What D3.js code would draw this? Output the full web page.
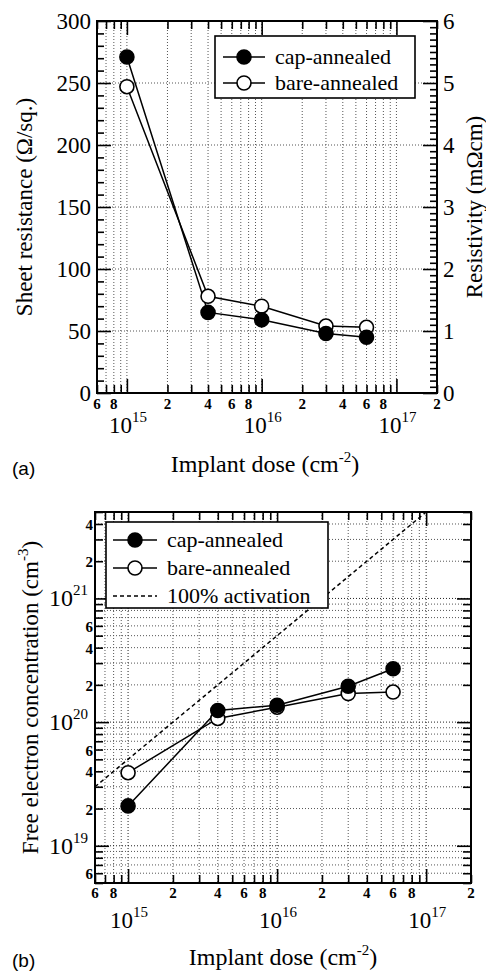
<!DOCTYPE html>
<html><head><meta charset="utf-8">
<script src="https://cdn.jsdelivr.net/npm/d3@7"></script>
<style>body{margin:0;background:#fff}svg{display:block}
svg text{font-family:"Liberation Serif" !important}
svg text.sans{font-family:"Liberation Sans" !important}</style>
</head><body>
<svg id="c" width="486" height="973"></svg>
<script>
// ---- data ----
const dose = [1e15, 4e15, 1e16, 3e16, 6e16];
const sheetCap = [271, 65, 59, 48, 45];
const sheetBare = [247, 78, 70, 54, 53];
const concCap = [2.1e19, 1.24e20, 1.37e20, 1.95e20, 2.7e20];
const concBare = [3.9e19, 1.07e20, 1.32e20, 1.7e20, 1.75e20];
const activationDose = [6e14, 1e17];
const activationConc = [3e19, 5e21];
const seriesNames = ["cap-annealed", "bare-annealed", "100% activation"];
const xMinorLabels = [6e14, 8e14, 2e15, 4e15, 6e15, 8e15, 2e16, 4e16, 6e16, 8e16, 2e17];
const xDecades = [15, 16, 17];
const yTicksA = [0, 50, 100, 150, 200, 250, 300];
const yTicksRight = [0, 1, 2, 3, 4, 5, 6];
const yMinorLabelsB = [4e21, 2e21, 6e20, 4e20, 2e20, 6e19, 4e19, 2e19, 6e18];
const yDecadesB = [19, 20, 21];

const svg = d3.select("#c");

function logTicks(lo, hi) {
  const out = [];
  for (let e = Math.floor(Math.log10(lo)); e <= Math.ceil(Math.log10(hi)); e++)
    for (let m = 1; m <= 9; m++) { const v = m * Math.pow(10, e); if (v >= lo * 0.999 && v <= hi * 1.001) out.push(v); }
  return out;
}
const isDecade = v => Math.abs(Math.log10(v) - Math.round(Math.log10(v))) < 1e-6;
const mant = d => String(Math.round(d / Math.pow(10, Math.floor(Math.log10(d) + 1e-9))));

function T(g) { return g.append("text").style("font-family", "Liberation Serif").attr("fill", "#000"); }

function xAxisLabels(g, x, yb, dyMinor, dyMajor) {
  g.selectAll(".xl").data(xMinorLabels).join("text").style("font-family", "Liberation Serif")
    .attr("x", d => x(d)).attr("y", yb + dyMinor).attr("text-anchor", "middle")
    .style("font-size", "15px").style("font-weight", "bold").text(mant);
  xDecades.forEach(e => {
    const t = T(g).attr("x", x(Math.pow(10, e)) + 1).attr("y", yb + dyMajor)
      .attr("text-anchor", "middle").style("font-size", "23px");
    t.append("tspan").text("10");
    t.append("tspan").attr("dy", -11).style("font-size", "15px").text(String(e));
  });
}

function drawMarkers(g, x, y, xs, ys, filled) {
  g.selectAll(null).data(xs.map((d, i) => [d, ys[i]])).join("circle")
    .attr("cx", d => x(d[0])).attr("cy", d => y(d[1])).attr("r", 7)
    .attr("fill", filled ? "#000" : "#fff").attr("stroke", "#000").attr("stroke-width", 1.6);
}

function tickFn(g) {
  return (axis, vals, size, tr) => g.append("g").attr("transform", tr)
    .call(axis.tickValues(vals).tickSizeInner(size).tickSizeOuter(0).tickFormat(""))
    .call(s => { s.select(".domain").remove(); s.selectAll("line").attr("stroke-width", 1.6); });
}

function xTitle(g, cx, yb) {
  const t = T(g).attr("x", cx).attr("y", yb).attr("text-anchor", "middle").style("font-size", "24px");
  t.append("tspan").text("Implant dose (cm");
  t.append("tspan").attr("dy", -10).style("font-size", "15px").text("-2");
  t.append("tspan").attr("dy", 10).text(")");
}

// ================= Panel (a) =================
{
  const L = 97, R = 437, Tp = 21, B = 393;
  const x = d3.scaleLog().domain([6e14, 2e17]).range([L, R]);
  const y = d3.scaleLinear().domain([0, 300]).range([B, Tp]);
  const y2 = d3.scaleLinear().domain([0, 6]).range([B, Tp]);
  const g = svg.append("g");
  const xt = logTicks(6e14, 2e17);
  g.selectAll(".vg").data(xt).join("line").attr("x1", d => x(d)).attr("x2", d => x(d))
    .attr("y1", Tp).attr("y2", B).attr("stroke", "#555").attr("stroke-width", 1).attr("stroke-dasharray", "1,2");
  g.selectAll(".hg").data(yTicksA.slice(1, -1)).join("line").attr("y1", d => y(d)).attr("y2", d => y(d))
    .attr("x1", L).attr("x2", R).attr("stroke", "#555").attr("stroke-width", 1).attr("stroke-dasharray", "1,2");
  const tick = tickFn(g);
  const xmin = xt.filter(v => !isDecade(v)), xmaj = xt.filter(isDecade);
  tick(d3.axisBottom(x), xmin, -8, `translate(0,${B})`);
  tick(d3.axisBottom(x), xmaj, -14, `translate(0,${B})`);
  tick(d3.axisTop(x), xmin, -8, `translate(0,${Tp})`);
  tick(d3.axisTop(x), xmaj, -14, `translate(0,${Tp})`);
  tick(d3.axisLeft(y), d3.range(0, 301, 10).filter(v => v % 50), -7, `translate(${L},0)`);
  tick(d3.axisLeft(y), yTicksA, -14, `translate(${L},0)`);
  tick(d3.axisRight(y2), d3.range(0, 61, 1).map(v => v / 10).filter((v, i) => i % 10), -7, `translate(${R},0)`);
  tick(d3.axisRight(y2), yTicksRight, -14, `translate(${R},0)`);
  g.append("rect").attr("x", L).attr("y", Tp).attr("width", R - L).attr("height", B - Tp)
    .attr("fill", "none").attr("stroke", "#000").attr("stroke-width", 2);
  g.selectAll(".yl").data(yTicksA).join("text").style("font-family", "Liberation Serif").attr("x", L - 6).attr("y", d => y(d) + 8)
    .attr("text-anchor", "end").style("font-size", "23px").text(d => d);
  g.selectAll(".yr").data(yTicksRight).join("text").style("font-family", "Liberation Serif").attr("x", R + 6).attr("y", d => y2(d) + 8)
    .attr("text-anchor", "start").style("font-size", "23px").text(d => d);
  xAxisLabels(g, x, B, 16, 40);
  const line = (ys) => d3.line().x((d, i) => x(dose[i])).y(d => y(d))(ys);
  g.append("path").attr("d", line(sheetBare)).attr("fill", "none").attr("stroke", "#000").attr("stroke-width", 1.5);
  g.append("path").attr("d", line(sheetCap)).attr("fill", "none").attr("stroke", "#000").attr("stroke-width", 1.5);
  drawMarkers(g, x, y, dose, sheetBare, false);
  drawMarkers(g, x, y, dose, sheetCap, true);
  const lg = g.append("g");
  lg.append("rect").attr("x", 215).attr("y", 36).attr("width", 200).attr("height", 62)
    .attr("fill", "#fff").attr("stroke", "#000").attr("stroke-width", 1.6);
  [[57, true], [83, false]].forEach(([cy, f], i) => {
    lg.append("line").attr("x1", 223).attr("x2", 265).attr("y1", cy).attr("y2", cy).attr("stroke", "#000").attr("stroke-width", 1.5);
    lg.append("circle").attr("cx", 244).attr("cy", cy).attr("r", 7).attr("fill", f ? "#000" : "#fff").attr("stroke", "#000").attr("stroke-width", 1.6);
    T(lg).attr("x", 275).attr("y", cy + 7).style("font-size", "22px").text(seriesNames[i]);
  });
  T(g).attr("transform", `translate(32,${(Tp + B) / 2}) rotate(-90)`).attr("text-anchor", "middle")
    .style("font-size", "23px").text("Sheet resistance (Ω/sq.)");
  T(g).attr("transform", `translate(482,${(Tp + B) / 2}) rotate(-90)`).attr("text-anchor", "middle")
    .style("font-size", "23px").text("Resistivity (mΩcm)");
  xTitle(g, 265, 472);
  g.append("text").attr("class", "sans").attr("x", 12).attr("y", 475).style("font-size", "19px").text("(a)");
}

// ================= Panel (b) =================
{
  const L = 95, R = 471, Tp = 512, B = 883;
  const x = d3.scaleLog().domain([6e14, 2e17]).range([L, R]);
  const y = d3.scaleLog().domain([5e18, 5e21]).range([B, Tp]);
  const g = svg.append("g");
  const xt = logTicks(6e14, 2e17);
  const yt = logTicks(5e18, 5e21);
  g.selectAll(".vg").data(xt).join("line").attr("x1", d => x(d)).attr("x2", d => x(d))
    .attr("y1", Tp).attr("y2", B).attr("stroke", d => isDecade(d) ? "#222" : "#555").attr("stroke-width", 1).attr("stroke-dasharray", "1,2");
  g.selectAll(".hg").data(yt).join("line").attr("y1", d => y(d)).attr("y2", d => y(d))
    .attr("x1", L).attr("x2", R).attr("stroke", d => isDecade(d) ? "#222" : "#555").attr("stroke-width", 1).attr("stroke-dasharray", "1,2");
  const tick = tickFn(g);
  const xmin = xt.filter(v => !isDecade(v)), xmaj = xt.filter(isDecade);
  const ymin = yt.filter(v => !isDecade(v)), ymaj = yt.filter(isDecade);
  tick(d3.axisBottom(x), xmin, -8, `translate(0,${B})`);
  tick(d3.axisBottom(x), xmaj, -14, `translate(0,${B})`);
  tick(d3.axisTop(x), xmin, -8, `translate(0,${Tp})`);
  tick(d3.axisTop(x), xmaj, -14, `translate(0,${Tp})`);
  tick(d3.axisLeft(y), ymin, -8, `translate(${L},0)`);
  tick(d3.axisLeft(y), ymaj, -14, `translate(${L},0)`);
  tick(d3.axisRight(y), ymin, -8, `translate(${R},0)`);
  tick(d3.axisRight(y), ymaj, -14, `translate(${R},0)`);
  g.append("rect").attr("x", L).attr("y", Tp).attr("width", R - L).attr("height", B - Tp)
    .attr("fill", "none").attr("stroke", "#000").attr("stroke-width", 2);
  g.selectAll(".yl").data(yMinorLabelsB).join("text").style("font-family", "Liberation Serif").attr("x", L - 2).attr("y", d => y(d) + 6)
    .attr("text-anchor", "end").style("font-size", "15px").style("font-weight", "bold").text(mant);
  yDecadesB.forEach(e => {
    const t = T(g).attr("x", L - 7).attr("y", y(Math.pow(10, e)) + 8).attr("text-anchor", "end").style("font-size", "24px");
    t.append("tspan").text("10");
    t.append("tspan").attr("dy", -11).style("font-size", "15px").text(String(e));
  });
  xAxisLabels(g, x, B, 15, 45);
  g.append("clipPath").attr("id", "clipb").append("rect").attr("x", L).attr("y", Tp).attr("width", R - L).attr("height", B - Tp);
  const line = d3.line().x(d => x(d[0])).y(d => y(d[1]));
  g.append("path").attr("d", line(activationDose.map((d, i) => [d, activationConc[i]]))).attr("clip-path", "url(#clipb)")
    .attr("fill", "none").attr("stroke", "#000").attr("stroke-width", 1.5).attr("stroke-dasharray", "4,3");
  g.append("path").attr("d", line(dose.map((d, i) => [d, concBare[i]]))).attr("fill", "none").attr("stroke", "#000").attr("stroke-width", 1.5);
  g.append("path").attr("d", line(dose.map((d, i) => [d, concCap[i]]))).attr("fill", "none").attr("stroke", "#000").attr("stroke-width", 1.5);
  drawMarkers(g, x, y, dose, concBare, false);
  drawMarkers(g, x, y, dose, concCap, true);
  const lg = g.append("g");
  lg.append("rect").attr("x", 106).attr("y", 522).attr("width", 222).attr("height", 86)
    .attr("fill", "#fff").attr("stroke", "#000").attr("stroke-width", 1.6);
  [[540, "f"], [568, "o"], [596, "d"]].forEach(([cy, k], i) => {
    const ln = lg.append("line").attr("x1", 113).attr("x2", 157).attr("y1", cy).attr("y2", cy).attr("stroke", "#000").attr("stroke-width", 1.5);
    if (k === "d") ln.attr("stroke-dasharray", "4,3");
    else lg.append("circle").attr("cx", 135).attr("cy", cy).attr("r", 7).attr("fill", k === "f" ? "#000" : "#fff").attr("stroke", "#000").attr("stroke-width", 1.6);
    T(lg).attr("x", 167).attr("y", cy + 7).style("font-size", "22px").text(seriesNames[i]);
  });
  const yl = T(g).attr("transform", `translate(38,${(Tp + B) / 2}) rotate(-90)`).attr("text-anchor", "middle").style("font-size", "23px");
  yl.append("tspan").text("Free electron concentration (cm");
  yl.append("tspan").attr("dy", -10).style("font-size", "15px").text("-3");
  yl.append("tspan").attr("dy", 10).text(")");
  xTitle(g, 283, 965);
  g.append("text").attr("class", "sans").attr("x", 12).attr("y", 967).style("font-size", "19px").text("(b)");
}
</script>
</body></html>
